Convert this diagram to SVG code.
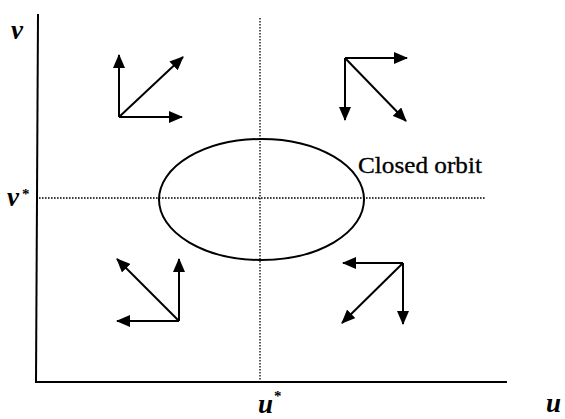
<svg xmlns="http://www.w3.org/2000/svg" width="565" height="419" viewBox="0 0 565 419">
<style>
.axis{stroke:#000;stroke-width:2;fill:none}
.dot{stroke:#000;stroke-width:1.3;stroke-dasharray:1.6 1.4;fill:none}
.arr{stroke:#000;stroke-width:2;fill:none;marker-end:url(#ah)}
.lab{font-family:"Liberation Serif",serif;font-style:italic;font-weight:bold;font-size:27px;fill:#000}
.sup{font-family:"Liberation Serif",serif;font-weight:bold;font-size:15px;fill:#000}
.txt{font-family:"Liberation Serif",serif;font-size:23px;fill:#000;stroke:#000;stroke-width:0.3}
</style>
<defs>
<marker id="ah" markerUnits="userSpaceOnUse" markerWidth="14" markerHeight="12" viewBox="0 0 14 12" refX="13" refY="6" orient="auto">
<path d="M0,0 L14,6 L0,12 z" fill="#000"/>
</marker>
</defs>
<rect width="565" height="419" fill="#fff"/>
<g id="axes">
<line class="axis" x1="38" y1="14" x2="36" y2="382"/>
<line class="axis" x1="35" y1="382" x2="507" y2="382"/>
</g>
<g id="guides">
<line class="dot" x1="260" y1="18" x2="260" y2="382"/>
<line class="dot" x1="39" y1="198" x2="485" y2="198"/>
</g>
<g id="orbit">
<ellipse cx="261.5" cy="199.5" rx="102.5" ry="60.5" fill="none" stroke="#000" stroke-width="2"/>
<text class="txt" x="358" y="173" textLength="124" lengthAdjust="spacingAndGlyphs">Closed orbit</text>
</g>
<g id="labels">
<text class="lab" x="11" y="39">v</text>
<text class="lab" x="7" y="206">v</text>
<text class="sup" x="22" y="199">*</text>
<text class="lab" x="258" y="413">u</text>
<text class="sup" x="274" y="401">*</text>
<text class="lab" x="546" y="412">u</text>
</g>
<g id="connectors">
<g id="q-top-left">
<line class="arr" x1="119" y1="117" x2="119" y2="55"/>
<line class="arr" x1="119" y1="117" x2="182" y2="117"/>
<line class="arr" x1="119" y1="117" x2="183" y2="57"/>
</g>
<g id="q-top-right">
<line class="arr" x1="345" y1="58" x2="407" y2="58"/>
<line class="arr" x1="345" y1="58" x2="345" y2="120"/>
<line class="arr" x1="345" y1="58" x2="406" y2="121"/>
</g>
<g id="q-bottom-left">
<line class="arr" x1="179" y1="321" x2="179" y2="259"/>
<line class="arr" x1="179" y1="321" x2="117" y2="321"/>
<line class="arr" x1="179" y1="321" x2="117" y2="259"/>
</g>
<g id="q-bottom-right">
<line class="arr" x1="403" y1="263" x2="343" y2="263"/>
<line class="arr" x1="403" y1="263" x2="403" y2="324"/>
<line class="arr" x1="403" y1="263" x2="342" y2="323"/>
</g>
</g>
</svg>
